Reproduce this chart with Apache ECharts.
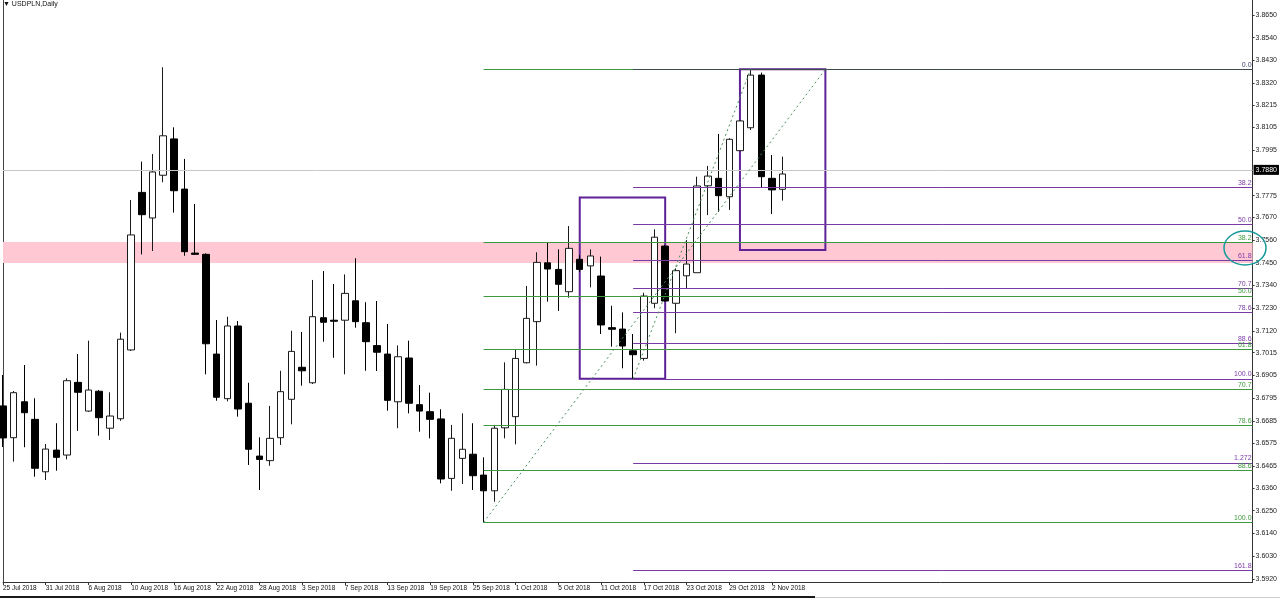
<!DOCTYPE html>
<html><head><meta charset="utf-8">
<script src="https://cdn.jsdelivr.net/npm/echarts@6/dist/echarts.min.js"></script>
<style>html,body{margin:0;padding:0;background:#fff;overflow:hidden}#c{width:1280px;height:598px}</style>
</head><body><div id="c"></div>
<script>
const dates = ['25 Jul 2018','26 Jul 2018','27 Jul 2018','30 Jul 2018','31 Jul 2018',
'1 Aug 2018','2 Aug 2018','3 Aug 2018','6 Aug 2018','7 Aug 2018','8 Aug 2018','9 Aug 2018','10 Aug 2018',
'13 Aug 2018','14 Aug 2018','15 Aug 2018','16 Aug 2018','17 Aug 2018','20 Aug 2018','21 Aug 2018','22 Aug 2018',
'23 Aug 2018','24 Aug 2018','27 Aug 2018','28 Aug 2018','29 Aug 2018','30 Aug 2018','31 Aug 2018',
'3 Sep 2018','4 Sep 2018','5 Sep 2018','6 Sep 2018','7 Sep 2018','10 Sep 2018','11 Sep 2018','12 Sep 2018',
'13 Sep 2018','14 Sep 2018','17 Sep 2018','18 Sep 2018','19 Sep 2018','20 Sep 2018','21 Sep 2018','24 Sep 2018',
'25 Sep 2018','26 Sep 2018','27 Sep 2018','28 Sep 2018',
'1 Oct 2018','2 Oct 2018','3 Oct 2018','4 Oct 2018','5 Oct 2018','8 Oct 2018','9 Oct 2018','10 Oct 2018',
'11 Oct 2018','12 Oct 2018','15 Oct 2018','16 Oct 2018','17 Oct 2018','18 Oct 2018','19 Oct 2018','22 Oct 2018',
'23 Oct 2018','24 Oct 2018','25 Oct 2018','26 Oct 2018','29 Oct 2018','30 Oct 2018','31 Oct 2018',
'1 Nov 2018','2 Nov 2018','5 Nov 2018'];

// [open, close, low, high]
const candles = [
[3.6757,3.6602,3.6558,3.6907],
[3.6603,3.6821,3.6487,3.6829],
[3.6777,3.6724,3.6557,3.6955],
[3.6692,3.6455,3.6414,3.6794],
[3.6438,3.6548,3.6398,3.6573],
[3.6543,3.6508,3.6443,3.6673],
[3.6519,3.6879,3.6498,3.6891],
[3.6871,3.6823,3.6636,3.7008],
[3.6732,3.6834,3.6728,3.7073],
[3.6828,3.6700,3.6613,3.6834],
[3.6649,3.6708,3.6592,3.6823],
[3.6695,3.7080,3.6685,3.7112],
[3.7028,3.7585,3.7023,3.7754],
[3.7791,3.7683,3.7491,3.7940],
[3.7667,3.7890,3.7507,3.7977],
[3.7874,3.8065,3.7840,3.8397],
[3.8050,3.7799,3.7693,3.8106],
[3.7807,3.7504,3.7484,3.7953],
[3.7497,3.7491,3.7488,3.7735],
[3.7491,3.7058,3.6910,3.7496],
[3.7008,3.6799,3.6782,3.7173],
[3.6792,3.7144,3.6779,3.7189],
[3.7144,3.6742,3.6705,3.7168],
[3.6770,3.6547,3.6471,3.6869],
[3.6514,3.6498,3.6350,3.6605],
[3.6492,3.6600,3.6467,3.6757],
[3.6603,3.6826,3.6568,3.6927],
[3.6789,3.7021,3.6668,3.7121],
[3.6944,3.6927,3.6855,3.7115],
[3.6869,3.7189,3.6863,3.7367],
[3.7184,3.7162,3.7068,3.7410],
[3.7172,3.7167,3.6990,3.7347],
[3.7172,3.7302,3.6910,3.7394],
[3.7266,3.7165,3.7136,3.7472],
[3.7160,3.7068,3.6927,3.7259],
[3.7049,3.7017,3.6926,3.7265],
[3.7008,3.6784,3.6734,3.7154],
[3.6777,3.6995,3.6649,3.7050],
[3.6989,3.6770,3.6721,3.7073],
[3.6763,3.6732,3.6632,3.6858],
[3.6729,3.6692,3.6600,3.6821],
[3.6694,3.6403,3.6382,3.6741],
[3.6406,3.6600,3.6346,3.6665],
[3.6503,3.6547,3.6379,3.6721],
[3.6523,3.6419,3.6350,3.6673],
[3.6422,3.6346,3.6193,3.6508],
[3.6346,3.6649,3.6293,3.6665],
[3.6651,3.6837,3.6600,3.6968],
[3.6705,3.6987,3.6571,3.7028],
[3.6966,3.7181,3.6963,3.7338],
[3.7165,3.7452,3.6952,3.7501],
[3.7450,3.7420,3.7262,3.7547],
[3.7418,3.7346,3.7217,3.7515],
[3.7310,3.7520,3.7281,3.7628],
[3.7467,3.7418,3.7405,3.7488],
[3.7435,3.7483,3.7331,3.7515],
[3.7386,3.7149,3.7105,3.7480],
[3.7136,3.7128,3.7044,3.7242],
[3.7129,3.7047,3.6939,3.7210],
[3.7024,3.7005,3.6888,3.7105],
[3.6987,3.7289,3.6976,3.7305],
[3.7254,3.7574,3.7230,3.7612],
[3.7531,3.7265,3.7262,3.7536],
[3.7254,3.7412,3.7109,3.7423],
[3.7387,3.7444,3.7326,3.7560],
[3.7402,3.7822,3.7402,3.7867],
[3.7823,3.7870,3.7681,3.7919],
[3.7859,3.7775,3.7697,3.8074],
[3.7770,3.8048,3.7706,3.8053],
[3.7993,3.8137,3.7991,3.8141],
[3.8104,3.8359,3.8093,3.8387],
[3.8359,3.7867,3.7816,3.8371],
[3.7859,3.7803,3.7686,3.7972],
[3.7806,3.7880,3.7751,3.7964]
];

const yTickLabels = ['3.5920','3.6030','3.6140','3.6250','3.6360','3.6465','3.6575','3.6685','3.6795','3.6905',
'3.7015','3.7120','3.7230','3.7340','3.7450','3.7560','3.7670','3.7775','3.7995','3.8105','3.8215','3.8320',
'3.8430','3.8540','3.8650'];

const lastPrice = 3.7880;
const zone = [3.7449, 3.7551];
// fib A (green): from low bar 45 to high
const greenStart = 45, greenLow = 3.6193, greenHigh = 3.8387, greenTrendEnd = 77;
const greenLevels = [0, 38.2, 50, 61.8, 70.7, 78.6, 88.6, 100];
const greenLabels = ['', '38.2', '50.0', '61.8', '70.7', '78.6', '88.6', '100.0'];
// fib B (purple): from low bar 59 to high bar 70
const purpleStart = 59, purpleLow = 3.6888, purpleHigh = 3.8387, purpleTrendEnd = 70;
const purpleLevels = [38.2, 50, 61.8, 70.7, 78.6, 88.6, 100, 127.2, 161.8];
const purpleLabels = ['38.2', '50.0', '61.8', '70.7', '78.6', '88.6', '100.0', '1.272', '161.8'];
// rectangles [x1, x2, yTop, yBottom]
const box1 = [54, 62, 3.7766, 3.6888];
const box2 = [69, 77, 3.8387, 3.7512];

const TOTAL = 118;
const categories = dates.concat(Array(TOTAL - dates.length).fill(''));
const lastIdx = TOTAL - 1;
const yMin = 3.59043, yMax = 3.87226;

const GREEN = '#3f9a3f', PURPLE = '#7a3aa6', BOX = '#5e2196', ZERO = '#3d4a4a', TREND = '#4a8f5a';
const FONT = 'Liberation Sans';

function fibData(start, low, high, levels, labels) {
  return levels.map((r, i) => {
    const v = high - r / 100 * (high - low);
    return [
      { coord: [start, v], label: { show: labels[i] !== '', formatter: labels[i] } },
      { coord: [lastIdx, v] }
    ];
  });
}

function lineSeries(color, z, markLine, markArea) {
  const s = { type: 'line', data: [], z: z, silent: true, color: color, itemStyle: { color: color },
    lineStyle: { color: color } };
  if (markLine) s.markLine = Object.assign({ silent: true, symbol: ['none', 'none'], animation: false,
    lineStyle: { color: color, type: 'solid', width: 1 },
    label: { position: 'insideEndTop', distance: 1, color: color, fontSize: 7, fontFamily: FONT } }, markLine);
  if (markArea) s.markArea = markArea;
  return s;
}

const showTick = (i) => i < dates.length && i % 4 === 0;

const chart = echarts.init(document.getElementById('c'), null, { renderer: 'canvas' });
chart.setOption({
  animation: false,
  backgroundColor: '#ffffff',
  grid: { left: 2, right: 27, top: 0, bottom: 16, containLabel: false },
  xAxis: {
    type: 'category', data: categories, boundaryGap: false,
    axisLine: { show: true, lineStyle: { color: '#333', width: 1 } },
    axisTick: { show: true, interval: showTick, length: 3, lineStyle: { color: '#333' } },
    axisLabel: { show: true, interval: showTick, align: 'left', fontSize: 6.5, color: '#111', margin: 3, fontFamily: FONT },
    splitLine: { show: false }
  },
  yAxis: [{
    type: 'value', position: 'right', min: yMin, max: yMax, scale: true,
    axisLine: { show: true, lineStyle: { color: '#333', width: 1 } },
    axisTick: { show: true, length: 2, customValues: yTickLabels.map(Number), lineStyle: { color: '#333' } },
    axisLabel: { show: true, customValues: yTickLabels.map(Number), formatter: v => v.toFixed(4),
      fontSize: 7, color: '#222', margin: 3, fontFamily: FONT },
    splitLine: { show: false }
  }, {
    type: 'value', position: 'left', min: yMin, max: yMax,
    axisLine: { show: true, onZero: false, lineStyle: { color: '#444', width: 1 } },
    axisTick: { show: false }, axisLabel: { show: false }, splitLine: { show: false }
  }],
  series: [
    {
      type: 'line', data: [], z: 1, silent: true, color: '#c8c8c8',
      markArea: { silent: true, itemStyle: { color: '#ffc8d3' },
        data: [[{ yAxis: zone[1] }, { yAxis: zone[0] }]] },
      markLine: { silent: true, symbol: ['none', 'none'],
        lineStyle: { color: '#c8c8c8', width: 1, type: 'solid' },
        label: { position: 'end', distance: 1, formatter: lastPrice.toFixed(4), color: '#fff',
          backgroundColor: '#000', padding: [2, 2, 1, 2], fontSize: 7, fontFamily: FONT },
        data: [{ yAxis: lastPrice }] }
    },
    {
      type: 'candlestick', data: candles, z: 2, barWidth: 7,
      itemStyle: { color: '#ffffff', color0: '#000000', borderColor: '#1a1a1a', borderColor0: '#000000', borderWidth: 1 }
    },
    lineSeries(GREEN, 3, { data: fibData(greenStart, greenLow, greenHigh, greenLevels, greenLabels) }),
    lineSeries(PURPLE, 3, { data: fibData(purpleStart, purpleLow, purpleHigh, purpleLevels, purpleLabels) }),
    lineSeries(ZERO, 4, { label: { position: 'insideEndTop', distance: 1, color: '#3d3d6a', fontSize: 7, fontFamily: FONT },
      data: [[{ coord: [purpleStart, purpleHigh], label: { formatter: '0.0' } }, { coord: [lastIdx, purpleHigh] }]] }),
    lineSeries(TREND, 4, { lineStyle: { color: TREND, type: [2, 3], width: 1 }, label: { show: false },
      data: [
        [{ coord: [greenStart, greenLow] }, { coord: [greenTrendEnd, greenHigh] }],
        [{ coord: [purpleStart, purpleLow] }, { coord: [purpleTrendEnd, purpleHigh] }]
      ] }),
    lineSeries(BOX, 5, null, { silent: true,
        itemStyle: { color: 'rgba(0,0,0,0)', borderColor: BOX, borderWidth: 2 },
        data: [
          [{ coord: [box1[0], box1[2]] }, { coord: [box1[1], box1[3]] }],
          [{ coord: [box2[0], box2[2]] }, { coord: [box2[1], box2[3]] }]
        ] })
  ],
  graphic: [
    { type: 'text', left: 3, top: 1, style: { text: '\u25BC USDPLN,Daily', fontSize: 7, fill: '#111', fontFamily: FONT } },
    { type: 'ellipse', shape: { cx: 1245, cy: 248, rx: 21, ry: 17 }, style: { fill: 'none', stroke: '#169a9a', lineWidth: 1.5 }, z: 100 },
    { type: 'rect', shape: { x: 0, y: 596, width: 815, height: 2 }, style: { fill: '#1a1a1a' } },
    { type: 'rect', shape: { x: 815, y: 597, width: 465, height: 1 }, style: { fill: '#cccccc' } }
  ]
});
</script></body></html>
